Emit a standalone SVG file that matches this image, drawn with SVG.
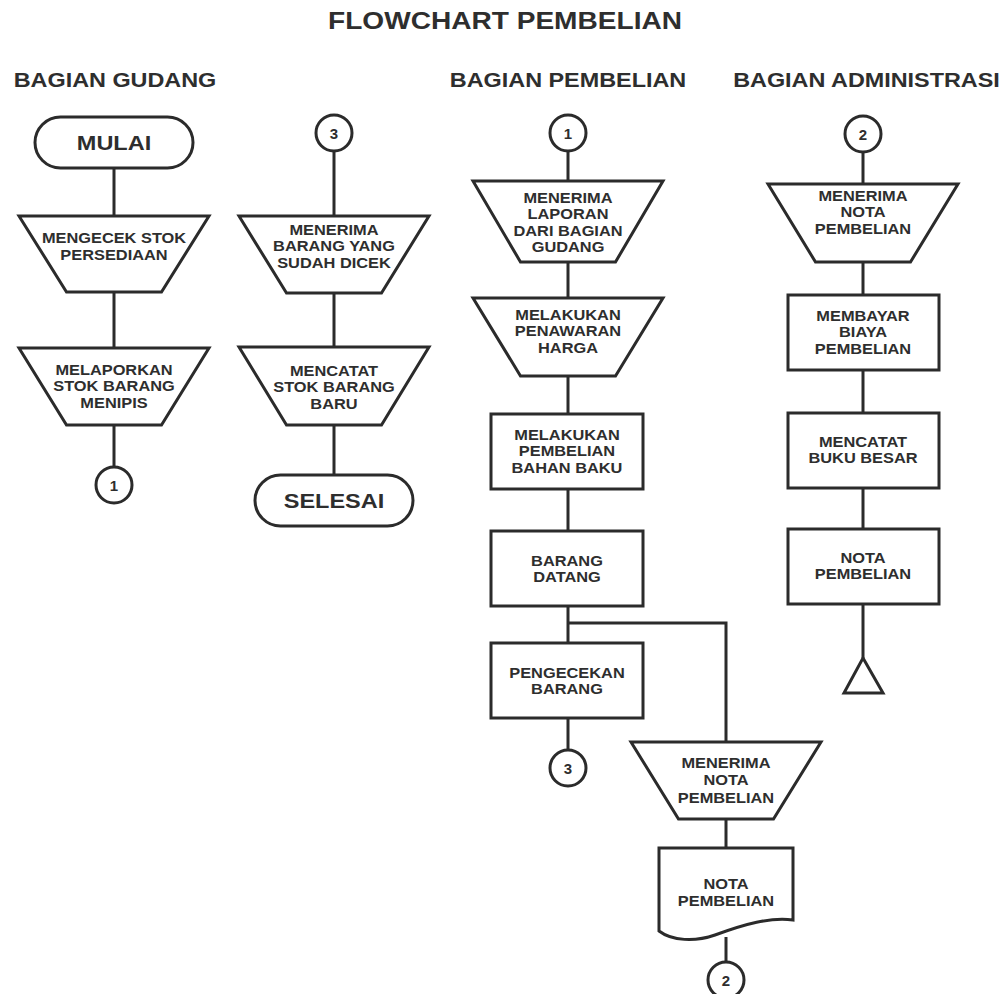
<svg xmlns="http://www.w3.org/2000/svg" width="1005" height="994" viewBox="0 0 1005 994">
<style>
.s{fill:#fff;stroke:#2b2b2b;stroke-width:3;stroke-linejoin:miter}
.c{fill:none;stroke:#2b2b2b;stroke-width:3}
.t{font-family:"Liberation Sans",Arial,sans-serif;font-weight:bold;fill:#2e2e2e;text-anchor:middle}
.n{font-size:14px}
.h{font-size:19.5px}
.tt{font-size:24px}
.tm{font-size:21px}
.k{font-size:15px}
</style>
<rect width="1005" height="994" fill="#fff"/>
<text class="t tt" transform="translate(505,29) scale(1.17,1)">FLOWCHART PEMBELIAN</text>
<text class="t h" transform="translate(115,87) scale(1.2,1)">BAGIAN GUDANG</text>
<text class="t h" transform="translate(568,87) scale(1.2,1)">BAGIAN PEMBELIAN</text>
<text class="t h" transform="translate(866.5,87) scale(1.2,1)">BAGIAN ADMINISTRASI</text>

<g id="connectors">
<line class="c" x1="114" y1="168" x2="114" y2="216"/>
<line class="c" x1="114" y1="292" x2="114" y2="348"/>
<line class="c" x1="114" y1="425" x2="114" y2="467"/>
<line class="c" x1="334" y1="151" x2="334" y2="216"/>
<line class="c" x1="334" y1="293" x2="334" y2="347"/>
<line class="c" x1="334" y1="425" x2="334" y2="475"/>
<line class="c" x1="568" y1="151" x2="568" y2="181"/>
<line class="c" x1="568" y1="262" x2="568" y2="298"/>
<line class="c" x1="568" y1="376" x2="568" y2="414"/>
<line class="c" x1="568" y1="489" x2="568" y2="531"/>
<line class="c" x1="568" y1="606" x2="568" y2="643"/>
<line class="c" x1="568" y1="718" x2="568" y2="750"/>
<polyline class="c" points="568,623 726,623 726,742"/>
<line class="c" x1="726" y1="819" x2="726" y2="848"/>
<line class="c" x1="726" y1="937" x2="726" y2="962"/>
<line class="c" x1="863" y1="152" x2="863" y2="184"/>
<line class="c" x1="863" y1="262" x2="863" y2="295"/>
<line class="c" x1="863" y1="370" x2="863" y2="413"/>
<line class="c" x1="863" y1="488" x2="863" y2="529"/>
<line class="c" x1="863" y1="604" x2="863" y2="658"/>
</g>

<g id="mulai">
<rect class="s" x="35" y="117" width="158" height="51" rx="25.5"/>
<text class="t tm" transform="translate(114,150) scale(1.12,1)">MULAI</text>
</g>
<g id="cek-stok">
<polygon class="s" points="19,216 209,216 161.5,292 66.5,292"/>
<text class="t n" transform="translate(114,243) scale(1.17,1)"><tspan x="0" y="0">MENGECEK STOK</tspan><tspan x="0" y="17">PERSEDIAAN</tspan></text>
</g>
<g id="lapor-stok">
<polygon class="s" points="19,348 209,348 161.5,425 66.5,425"/>
<text class="t n" transform="translate(114,375) scale(1.17,1)"><tspan x="0" y="0">MELAPORKAN</tspan><tspan x="0" y="16.5">STOK BARANG</tspan><tspan x="0" y="33">MENIPIS</tspan></text>
</g>
<g id="conn-1a">
<circle class="s" cx="114" cy="485" r="18"/>
<text class="t k" x="114" y="490.5">1</text>
</g>

<g id="conn-3a">
<circle class="s" cx="334" cy="133" r="18"/>
<text class="t k" x="334" y="138.5">3</text>
</g>
<g id="terima-barang">
<polygon class="s" points="239,216 429,216 381.5,293 286.5,293"/>
<text class="t n" transform="translate(334,235) scale(1.17,1)"><tspan x="0" y="0">MENERIMA</tspan><tspan x="0" y="16.5">BARANG YANG</tspan><tspan x="0" y="33">SUDAH DICEK</tspan></text>
</g>
<g id="catat-stok">
<polygon class="s" points="239,347 429,347 381.5,425 286.5,425"/>
<text class="t n" transform="translate(334,376) scale(1.17,1)"><tspan x="0" y="0">MENCATAT</tspan><tspan x="0" y="16.5">STOK BARANG</tspan><tspan x="0" y="33">BARU</tspan></text>
</g>
<g id="selesai">
<rect class="s" x="255" y="475" width="158" height="51" rx="25.5"/>
<text class="t tm" transform="translate(334,508) scale(1.12,1)">SELESAI</text>
</g>

<g id="conn-1b">
<circle class="s" cx="568" cy="133" r="18"/>
<text class="t k" x="568" y="138.5">1</text>
</g>
<g id="terima-laporan">
<polygon class="s" points="473,181 663,181 615.5,262 520.5,262"/>
<text class="t n" transform="translate(568,203) scale(1.17,1)"><tspan x="0" y="0">MENERIMA</tspan><tspan x="0" y="16.5">LAPORAN</tspan><tspan x="0" y="33">DARI BAGIAN</tspan><tspan x="0" y="49.5">GUDANG</tspan></text>
</g>
<g id="penawaran">
<polygon class="s" points="473,298 663,298 615.5,376 520.5,376"/>
<text class="t n" transform="translate(568,320) scale(1.17,1)"><tspan x="0" y="0">MELAKUKAN</tspan><tspan x="0" y="16.5">PENAWARAN</tspan><tspan x="0" y="33">HARGA</tspan></text>
</g>
<g id="pembelian-bahan">
<rect class="s" x="491" y="414" width="152" height="75"/>
<text class="t n" transform="translate(567,440) scale(1.17,1)"><tspan x="0" y="0">MELAKUKAN</tspan><tspan x="0" y="16.5">PEMBELIAN</tspan><tspan x="0" y="33">BAHAN BAKU</tspan></text>
</g>
<g id="barang-datang">
<rect class="s" x="491" y="531" width="152" height="75"/>
<text class="t n" transform="translate(567,566) scale(1.17,1)"><tspan x="0" y="0">BARANG</tspan><tspan x="0" y="16.5">DATANG</tspan></text>
</g>
<g id="pengecekan">
<rect class="s" x="491" y="643" width="152" height="75"/>
<text class="t n" transform="translate(567,678) scale(1.17,1)"><tspan x="0" y="0">PENGECEKAN</tspan><tspan x="0" y="16.5">BARANG</tspan></text>
</g>
<g id="conn-3b">
<circle class="s" cx="568" cy="768" r="18"/>
<text class="t k" x="568" y="773.5">3</text>
</g>
<g id="terima-nota-beli">
<polygon class="s" points="631,742 821,742 773.5,819 678.5,819"/>
<text class="t n" transform="translate(726,768) scale(1.17,1)"><tspan x="0" y="0">MENERIMA</tspan><tspan x="0" y="17.5">NOTA</tspan><tspan x="0" y="35">PEMBELIAN</tspan></text>
</g>
<g id="nota-dokumen">
<path class="s" d="M659,848 H793 V920 C770,917 745,924 715,935 C695,942 672,941 659,931 Z"/>
<text class="t n" transform="translate(726,889) scale(1.17,1)"><tspan x="0" y="0">NOTA</tspan><tspan x="0" y="17.5">PEMBELIAN</tspan></text>
</g>
<g id="conn-2a">
<circle class="s" cx="726" cy="980" r="18"/>
<text class="t k" x="726" y="985.5">2</text>
</g>

<g id="conn-2b">
<circle class="s" cx="863" cy="134" r="18"/>
<text class="t k" x="863" y="139.5">2</text>
</g>
<g id="terima-nota-admin">
<polygon class="s" points="768,184 958,184 910.5,262 815.5,262"/>
<text class="t n" transform="translate(863,201) scale(1.17,1)"><tspan x="0" y="0">MENERIMA</tspan><tspan x="0" y="16.5">NOTA</tspan><tspan x="0" y="33">PEMBELIAN</tspan></text>
</g>
<g id="bayar">
<rect class="s" x="788" y="295" width="151" height="75"/>
<text class="t n" transform="translate(863,321) scale(1.17,1)"><tspan x="0" y="0">MEMBAYAR</tspan><tspan x="0" y="16.5">BIAYA</tspan><tspan x="0" y="33">PEMBELIAN</tspan></text>
</g>
<g id="buku-besar">
<rect class="s" x="788" y="413" width="151" height="75"/>
<text class="t n" transform="translate(863,447) scale(1.17,1)"><tspan x="0" y="0">MENCATAT</tspan><tspan x="0" y="16.5">BUKU BESAR</tspan></text>
</g>
<g id="nota-admin">
<rect class="s" x="788" y="529" width="151" height="75"/>
<text class="t n" transform="translate(863,563) scale(1.17,1)"><tspan x="0" y="0">NOTA</tspan><tspan x="0" y="16.5">PEMBELIAN</tspan></text>
</g>
<g id="arsip">
<polygon class="s" points="863,658 883,693 844,693"/>
</g>
</svg>
